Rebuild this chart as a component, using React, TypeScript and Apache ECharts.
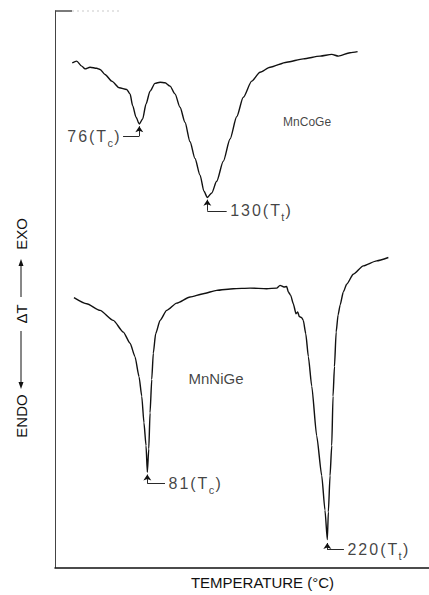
import React, { useEffect, useRef } from 'react';
import * as echarts from 'echarts';

// ---- data (temperature in °C, ΔT in arbitrary units 0..100) ----
const mnCoGeTemp = [24.3, 27.7, 31.6, 34.1, 38.0, 43.1, 45.7, 49.5, 54.7, 60.5, 66.2, 68.8, 70.8, 73.4, 75.9, 78.5, 81.1, 84.2, 88.0, 91.9, 95.7, 99.6, 103.4, 107.3, 111.1, 115.0, 118.8, 122.7, 125.7, 128.3, 131.7, 135.5, 140.6, 145.8, 150.9, 156.0, 162.5, 168.9, 176.6, 189.4, 202.2, 215.1, 224.1, 229.2, 238.2, 244.0];
const mnCoGeDT = [90.7, 91.0, 90.1, 89.6, 89.9, 89.7, 89.5, 88.6, 87.4, 86.2, 85.9, 85.1, 83.0, 80.9, 79.7, 80.6, 83.3, 85.6, 87.0, 87.2, 87.1, 86.5, 85.1, 82.7, 80.0, 76.5, 73.5, 70.5, 67.6, 66.5, 67.3, 69.4, 73.0, 77.0, 81.0, 84.5, 87.4, 89.0, 89.9, 90.8, 91.4, 91.9, 92.2, 91.9, 92.5, 92.7];

const mnNiGeTemp = [25.6, 35.4, 45.7, 55.9, 63.6, 68.8, 72.6, 75.7, 77.8, 79.5, 81.1, 82.1, 83.2, 84.2, 85.5, 86.7, 88.5, 91.9, 97.0, 104.7, 115.0, 125.2, 135.5, 148.3, 161.2, 174.0, 181.7, 184.3, 187.3, 189.4, 190.7, 192.5, 194.5, 196.6, 197.9, 199.1, 201.0, 202.2, 204.1, 206.1, 208.7, 212.5, 216.4, 218.9, 220.7, 221.5, 222.8, 224.1, 225.1, 226.2, 227.5, 229.0, 230.6, 233.0, 235.6, 240.7, 248.4, 258.7, 267.7];
const mnNiGeDT = [48.5, 47.4, 46.2, 44.4, 42.3, 40.3, 37.9, 34.3, 30.8, 26.0, 21.9, 17.1, 21.3, 27.8, 33.8, 38.5, 42.0, 44.4, 46.2, 47.5, 48.6, 49.2, 49.8, 50.1, 50.2, 50.1, 50.2, 50.7, 50.4, 50.5, 49.5, 48.9, 47.4, 45.6, 45.9, 45.1, 44.9, 44.4, 42.0, 37.9, 32.6, 23.7, 16.5, 10.3, 5.0, 10.0, 16.5, 21.9, 30.8, 36.1, 42.3, 45.4, 47.2, 49.5, 50.9, 52.7, 54.2, 55.1, 55.7];

// peak annotations
const peakNumbers = ['76', '130', '81', '220'];
const peakSubs = ['c', 't', 'c', 't'];
const peakTemp = [75.9, 128.3, 82.1, 220.7];
const peakTipDT = [79.3, 66.1, 16.7, 4.4];
const peakHookDT = [77.5, 64.1, 15.1, 3.2];
const peakHookEndTemp = [63.4, 143.2, 95.7, 233.5];
const peakLabelSide = ['left', 'right', 'right', 'right'];

// sample names
const sampleNames = ['MnCoGe', 'MnNiGe'];
const sampleLabelTemp = [205.1, 135.0];
const sampleLabelDT = [80.1, 34.0];
const sampleFontSize = [12, 15];

const xTitle = 'TEMPERATURE (°C)';
const yTitleParts = ['ENDO', 'ΔT', 'EXO'];

const FONT = '"Liberation Sans", Arial, Helvetica, sans-serif';
const INK = '#111111';

export default function App() {
  const ref = useRef<HTMLDivElement>(null);

  useEffect(() => {
    if (!ref.current) return;
    const chart = echarts.init(ref.current, undefined, { renderer: 'svg' });

    const peakLabelData = peakNumbers.map((num, i) => {
      const tokens = num.split('').map((ch) => `{n|${ch}}`).join('');
      const formatter = `${tokens}{n|(}{n|T}{s|${peakSubs[i]}}{n|)}`;
      return {
        value: [peakHookEndTemp[i], peakHookDT[i]],
        label: {
          show: true,
          position: peakLabelSide[i],
          distance: 2,
          offset: [0, 2],
          formatter,
        },
      };
    });

    const sampleData = sampleNames.map((name, i) => ({
      value: [sampleLabelTemp[i], sampleLabelDT[i]],
      label: {
        show: true,
        position: 'inside',
        formatter: name,
        fontSize: sampleFontSize[i],
        fontFamily: FONT,
        color: INK,
      },
    }));

    const option: any = {
      animation: false,
      backgroundColor: '#ffffff',
      grid: { left: 55, right: 0, top: 11, bottom: 22 },
      xAxis: {
        type: 'value',
        min: 11,
        max: 299,
        axisLine: { show: true, lineStyle: { color: '#111', width: 1.5 } },
        axisTick: { show: false },
        axisLabel: { show: false },
        splitLine: { show: false },
        name: xTitle,
        nameLocation: 'middle',
        nameGap: 15,
        nameTextStyle: {
          fontSize: 15,
          fontFamily: FONT,
          color: INK,
          verticalAlign: 'middle',
          padding: [0, 0, 0, 41],
        },
      },
      yAxis: {
        type: 'value',
        min: 0,
        max: 100,
        axisLine: { show: true, onZero: false, lineStyle: { color: '#444', width: 1 } },
        axisTick: { show: false },
        axisLabel: { show: false },
        splitLine: { show: false },
      },
      series: [
        {
          name: 'MnCoGe',
          type: 'line',
          data: mnCoGeTemp.map((t, i) => [t, mnCoGeDT[i]]),
          symbol: 'none',
          smooth: 0.25,
          smoothMonotone: 'x',
          lineStyle: { color: INK, width: 1.4 },
        },
        {
          name: 'MnNiGe',
          type: 'line',
          data: mnNiGeTemp.map((t, i) => [t, mnNiGeDT[i]]),
          symbol: 'none',
          smooth: 0.2,
          smoothMonotone: 'x',
          lineStyle: { color: INK, width: 1.4 },
        },
        {
          name: 'arrows',
          type: 'lines',
          coordinateSystem: 'cartesian2d',
          symbol: ['none', 'arrow'],
          symbolSize: 6,
          lineStyle: { color: INK, width: 0.9, opacity: 1, curveness: 0 },
          data: peakTemp.map((t, i) => ({ coords: [[t, peakHookDT[i]], [t, peakTipDT[i]]] })),
          silent: true,
        },
        {
          name: 'hooks',
          type: 'lines',
          coordinateSystem: 'cartesian2d',
          symbol: 'none',
          lineStyle: { color: INK, width: 0.9, opacity: 1, curveness: 0 },
          data: peakTemp.map((t, i) => ({ coords: [[t, peakHookDT[i]], [peakHookEndTemp[i], peakHookDT[i]]] })),
          silent: true,
        },
        {
          name: 'peakLabels',
          type: 'scatter',
          symbolSize: 1,
          itemStyle: { color: 'rgba(0,0,0,0)' },
          silent: true,
          label: {
            show: true,
            color: INK,
            fontFamily: FONT,
            rich: {
              n: { fontSize: 16, fontFamily: FONT, color: INK, lineHeight: 20, verticalAlign: 'top', padding: [0, 1] },
              s: { fontSize: 11, fontFamily: FONT, color: INK, lineHeight: 11, verticalAlign: 'bottom', padding: [0, 0.3] },
            },
          },
          data: peakLabelData,
        },
        {
          name: 'sampleLabels',
          type: 'scatter',
          symbolSize: 1,
          itemStyle: { color: 'rgba(0,0,0,0)' },
          silent: true,
          data: sampleData,
        },
      ],
      graphic: [
        { type: 'line', shape: { x1: 55, y1: 11, x2: 72, y2: 11 }, style: { stroke: '#222', lineWidth: 1.2 } },
        { type: 'line', shape: { x1: 72, y1: 11, x2: 122, y2: 11 }, style: { stroke: '#bbb', lineWidth: 0.8, lineDash: [2, 3] } },
        {
          type: 'group',
          x: 21,
          y: 328,
          rotation: Math.PI / 2,
          children: [
            {
              type: 'text',
              x: -88,
              y: 0,
              style: { text: yTitleParts[0], fontSize: 15, fontFamily: FONT, fill: INK, align: 'center', verticalAlign: 'middle', textAlign: 'center', textVerticalAlign: 'middle' },
            },
            { type: 'line', shape: { x1: -3, y1: 0, x2: -58, y2: 0 }, style: { stroke: INK, lineWidth: 1 } },
            { type: 'polygon', shape: { points: [[-54, -2.5], [-61, 0], [-54, 2.5]] }, style: { fill: INK } },
            {
              type: 'text',
              x: 14,
              y: 0,
              style: { text: yTitleParts[1], fontSize: 15, fontFamily: FONT, fill: INK, align: 'center', verticalAlign: 'middle', textAlign: 'center', textVerticalAlign: 'middle' },
            },
            { type: 'line', shape: { x1: 31, y1: 0, x2: 66, y2: 0 }, style: { stroke: INK, lineWidth: 1 } },
            { type: 'polygon', shape: { points: [[62, -2.5], [69, 0], [62, 2.5]] }, style: { fill: INK } },
            {
              type: 'text',
              x: 94,
              y: 0,
              style: { text: yTitleParts[2], fontSize: 15, fontFamily: FONT, fill: INK, align: 'center', verticalAlign: 'middle', textAlign: 'center', textVerticalAlign: 'middle' },
            },
          ],
        },
      ],
    };

    chart.setOption(option);
    return () => chart.dispose();
  }, []);

  return (
    <div
      ref={ref}
      style={{ position: 'fixed', left: 0, top: 0, width: 429, height: 595, background: '#fff' }}
    />
  );
}
